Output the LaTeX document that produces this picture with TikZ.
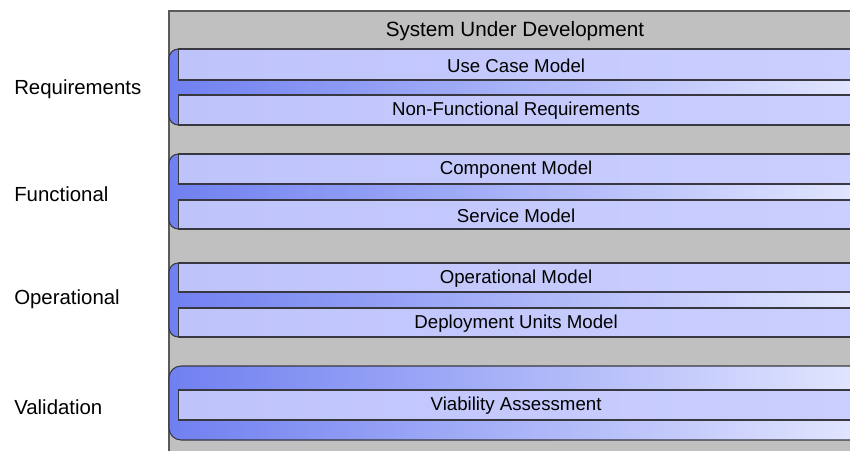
\documentclass[tikz,border=0pt]{standalone}
\usepackage{fontspec}
\setmainfont{Liberation Sans}
\definecolor{panelgray}{HTML}{C0C0C0}
\definecolor{paneledge}{HTML}{5A5A5A}
\definecolor{grpL}{HTML}{7080F0}
\definecolor{grpR}{HTML}{E2E6FF}
\definecolor{boxL}{HTML}{BEC3FA}
\definecolor{boxR}{HTML}{CBCFFF}
\definecolor{edge}{HTML}{383840}
\tikzset{
  sidelabel/.style={anchor=west, inner sep=0pt, yshift=-1.2pt, font=\fontsize{15.3}{18}\selectfont},
  titlelabel/.style={inner sep=0pt, yshift=-1.2pt, font=\fontsize{15.5}{18}\selectfont},
  modelbox/.style={draw=edge, line width=0.9pt, left color=boxL, right color=boxR,
    rectangle, anchor=west, inner sep=0pt, minimum width=506.25pt,
    font=\fontsize{14}{16}\selectfont},
  boxtext/.style={inner sep=0pt, yshift=-0.8pt, font=\fontsize{14}{16}\selectfont},
  groupshape/.style={draw=edge, line width=0.8pt, left color=grpL, right color=grpR}
}
\begin{document}
\begin{tikzpicture}[x=0.75pt,y=-0.75pt]
\useasboundingbox (0,0) rectangle (850,450);
\clip (0,0) rectangle (850,450);
\fill[white] (0,0) rectangle (850,450);
% system panel
\filldraw[fill=panelgray, draw=paneledge, line width=0.9pt] (169,11) rectangle (880,470);
\node[titlelabel] (title) at (515,30) {System Under Development};
% group shapes
\path[groupshape, rounded corners=7pt] (860,49) -- (169,49) -- (169,125) -- (860,125);
\path[groupshape, rounded corners=7pt] (860,154) -- (169,154) -- (169,229) -- (860,229);
\path[groupshape, rounded corners=7pt] (860,263) -- (169,263) -- (169,337) -- (860,337);
\path[groupshape, rounded corners=9pt] (860,366) -- (169,366) -- (169,440) -- (860,440);
% model boxes
\node[modelbox, minimum height=23.25pt] (ucm) at (178,64.5) {};
\node[modelbox, minimum height=22.5pt] (nfr) at (178,110) {};
\node[modelbox, minimum height=22.5pt] (cm) at (178,169) {};
\node[modelbox, minimum height=21.75pt] (sm) at (178,214.5) {};
\node[modelbox, minimum height=21.75pt] (om) at (178,277.5) {};
\node[modelbox, minimum height=21.75pt] (dum) at (178,322.5) {};
\node[modelbox, minimum height=22.5pt] (va) at (178,405) {};
\node[boxtext] (ucmt) at (ucm.center) {Use Case Model};
\node[boxtext] (nfrt) at (nfr.center) {Non-Functional Requirements};
\node[boxtext] (cmt) at (cm.center) {Component Model};
\node[boxtext] (smt) at (sm.center) {Service Model};
\node[boxtext] (omt) at (om.center) {Operational Model};
\node[boxtext] (dumt) at (dum.center) {Deployment Units Model};
\node[boxtext] (vat) at (va.center) {Viability Assessment};
% side labels
\node[sidelabel] (req) at (14,88) {Requirements};
\node[sidelabel] (fun) at (14,193) {Functional};
\node[sidelabel] (ope) at (14,298) {Operational};
\node[sidelabel] (val) at (14,406) {Validation};
\end{tikzpicture}
\end{document}
